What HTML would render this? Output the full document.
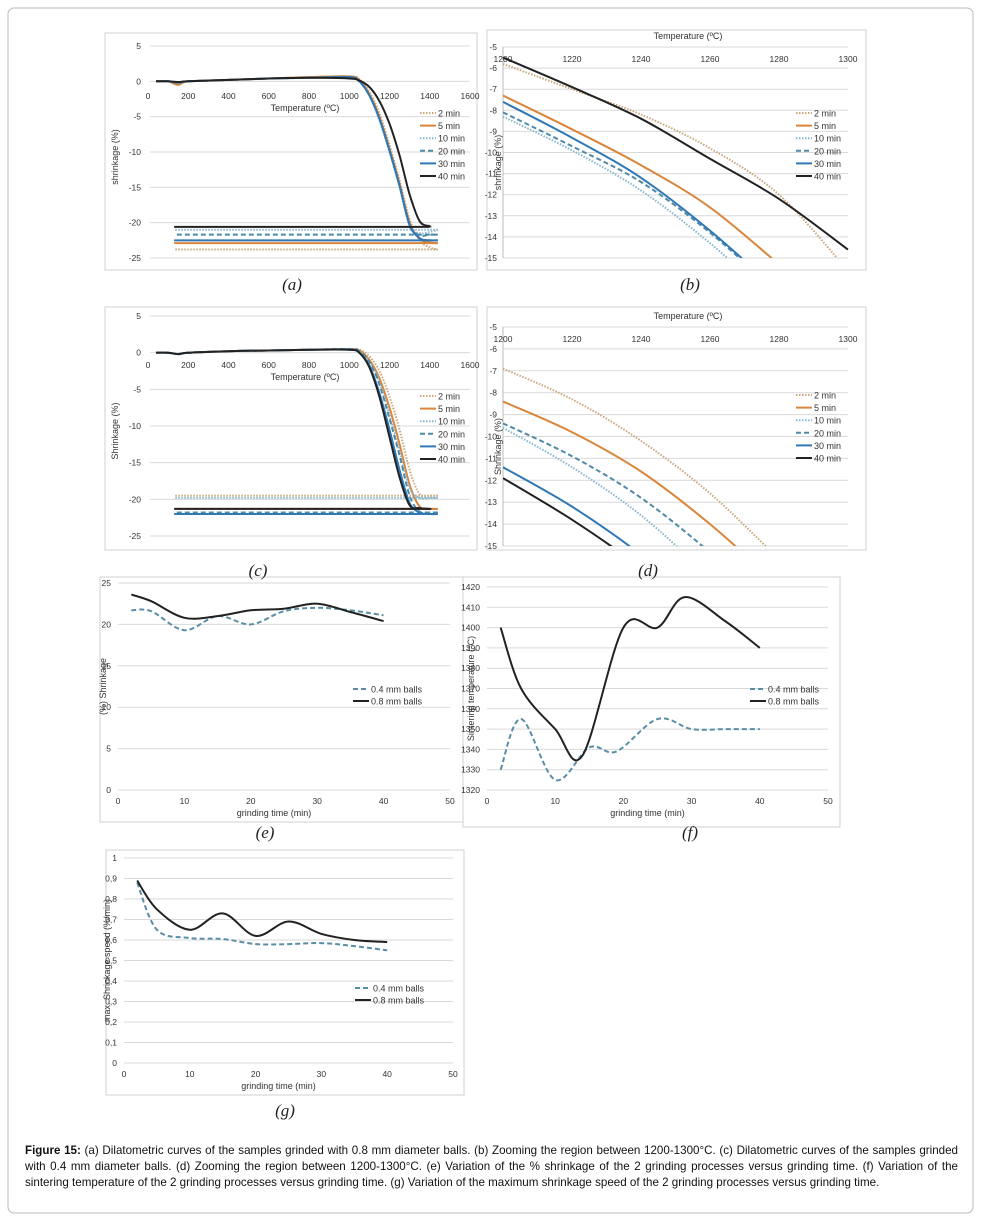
<!DOCTYPE html>
<html><head><meta charset="utf-8">
<style>
body{margin:0;background:#fff;}
svg{display:block;font-family:"Liberation Sans",sans-serif;}
.cap{position:absolute;left:25px;top:1143px;width:933px;font:11.6px/16px "Liberation Sans",sans-serif;text-align:justify;color:#111;}
</style></head>
<body>
<div style="position:relative;width:981px;height:1219px;">
<svg id="fig" width="981" height="1219" viewBox="0 0 981 1219">
<rect x="8" y="8" width="965" height="1205" rx="6" fill="#fff" stroke="#bbb"/>
</svg>
<div class="cap"><b>Figure 15:</b> (a) Dilatometric curves of the samples grinded with 0.8 mm diameter balls. (b) Zooming the region between 1200-1300°C. (c) Dilatometric curves of the samples grinded with 0.4 mm diameter balls. (d) Zooming the region between 1200-1300°C. (e) Variation of the % shrinkage of the 2 grinding processes versus grinding time. (f) Variation of the sintering temperature of the 2 grinding processes versus grinding time. (g) Variation of the maximum shrinkage speed of the 2 grinding processes versus grinding time.</div>
</div>
<script>
// ---------- data ----------
const seriesNames = ["2 min","5 min","10 min","20 min","30 min","40 min"];
const heatTemps = [40,100,150,200,400,600,800,1000,1050,1100,1150,1200,1250,1300,1350,1400];
// panel (a): 0.8 mm balls
const aHeat2  = [0,0,-0.4,0,0.2,0.4,0.6,0.7,0.3,-1.5,-4.5,-9,-14,-19.5,-22.5,-23.5];
const aHeat5  = [0,0,-0.5,0,0.2,0.4,0.6,0.7,0.2,-1.8,-5,-9.5,-14.5,-20,-22.3,-22.8];
const aHeat10 = [0,0,-0.2,0,0.2,0.4,0.5,0.6,0,-2,-5.5,-10,-15,-20.5,-21.5,-21.3];
const aHeat20 = [0,0,-0.2,0,0.2,0.4,0.5,0.6,0,-2,-5.3,-9.8,-14.8,-20.3,-21.8,-21.7];
const aHeat30 = [0,0,-0.2,0,0.2,0.4,0.5,0.6,0,-2,-5.3,-9.8,-14.8,-20.3,-22.2,-22.5];
const aHeat40 = [0,0,-0.1,0,0.2,0.4,0.5,0.4,0.1,-0.8,-2.8,-6,-10.5,-16,-19.8,-20.5];
const aCool = [-23.8,-22.9,-21.0,-21.7,-22.5,-20.6];
// panel (c): 0.4 mm balls
const cHeat2  = [0,0,-0.2,0,0.2,0.3,0.4,0.5,0.4,-0.5,-2.5,-6,-10.5,-16,-19.3,-19.5];
const cHeat5  = [0,0,-0.2,0,0.2,0.3,0.4,0.5,0.3,-1,-3.5,-7.5,-12.5,-18,-21,-21.3];
const cHeat10 = [0,0,-0.2,0,0.2,0.3,0.4,0.5,0.2,-1.3,-4,-8.5,-13.5,-18.5,-19.8,-19.8];
const cHeat20 = [0,0,-0.2,0,0.2,0.3,0.4,0.5,0.2,-1.3,-4.3,-9,-14,-19.5,-21.7,-21.8];
const cHeat30 = [0,0,-0.2,0,0.2,0.3,0.4,0.4,0,-1.8,-5.5,-10.5,-16,-20.5,-21.8,-22];
const cHeat40 = [0,0,-0.2,0,0.2,0.3,0.4,0.4,0,-2,-6,-11.5,-17,-20.8,-21.2,-21.3];
const cCool = [-19.5,-21.3,-19.8,-21.8,-22.0,-21.3];
// zoom panels (b),(d)
const zoomTemps = [1200,1220,1240,1260,1280,1300];
const b2  = [-5.8,-7.0,-8.2,-9.8,-12.0,-15.6];
const b5  = [-7.3,-8.9,-10.6,-12.6,-15.3,-18];
const b10 = [-8.3,-9.9,-11.8,-14.3,-17.2,-20];
const b20 = [-8.1,-9.7,-11.4,-13.8,-16.7,-19.6];
const b30 = [-7.6,-9.3,-11.2,-13.7,-16.6,-19.5];
const b40 = [-5.5,-6.9,-8.4,-10.3,-12.2,-14.6];
const d2  = [-6.9,-8.3,-10.2,-12.6,-15.6,-18.6];
const d5  = [-8.4,-9.8,-11.6,-14.0,-16.8,-19.6];
const d10 = [-9.6,-11.4,-13.6,-16.4,-19.2,-22];
const d20 = [-9.4,-10.9,-12.8,-15.3,-18.2,-21];
const d30 = [-11.4,-13.2,-15.4,-18.0,-20.6,-23];
const d40 = [-11.9,-13.8,-16.0,-18.6,-21.2,-24];
// (e)(f)(g)
const grindTimes = [2,5,10,15,20,25,30,35,40];
const eSmall = [21.7,21.6,19.3,21.0,20.0,21.6,22.0,21.7,21.1];
const eLarge = [23.6,22.8,20.8,21.0,21.7,21.9,22.5,21.5,20.4];
const fTimes4 = [2,5,10,15,19,25,30,35,40];
const fSmall = [1330,1355,1325,1341,1339,1355,1350,1350,1350];
const fTimes8 = [2,5,10,14,20,25,29,35,40];
const fLarge = [1400,1370,1350,1337,1400,1400,1415,1403,1390];
const gSmall = [0.88,0.65,0.61,0.605,0.58,0.58,0.585,0.57,0.55];
const gLarge = [0.89,0.75,0.65,0.73,0.62,0.69,0.63,0.60,0.59];

// ---------- helpers ----------
const NS="http://www.w3.org/2000/svg";
const svg=document.getElementById('fig');
function el(tag,attrs,parent){const e=document.createElementNS(NS,tag);for(const k in attrs)e.setAttribute(k,attrs[k]);(parent||svg).appendChild(e);return e;}
function txt(x,y,s,size,anchor,parent,rot){const t=el('text',{x:x,y:y,'font-size':size,'text-anchor':anchor||'middle',fill:'#333'},parent);if(rot)t.setAttribute('transform','rotate(-90 '+x+' '+y+')');t.textContent=s;return t;}
function smooth(pts){let d='M'+pts[0][0].toFixed(1)+','+pts[0][1].toFixed(1);for(let i=0;i<pts.length-1;i++){const p0=pts[i-1]||pts[i],p1=pts[i],p2=pts[i+1],p3=pts[i+2]||p2;const c1=[p1[0]+(p2[0]-p0[0])/6,p1[1]+(p2[1]-p0[1])/6],c2=[p2[0]-(p3[0]-p1[0])/6,p2[1]-(p3[1]-p1[1])/6];d+='C'+c1[0].toFixed(1)+','+c1[1].toFixed(1)+' '+c2[0].toFixed(1)+','+c2[1].toFixed(1)+' '+p2[0].toFixed(1)+','+p2[1].toFixed(1);}return d;}
const styles=[
 {stroke:'#c9a77c',w:2,dash:'1.5,1.5'},
 {stroke:'#d9853b',w:2,dash:''},
 {stroke:'#86b6cf',w:2,dash:'1.5,1.5'},
 {stroke:'#4f8aa6',w:2,dash:'5,3'},
 {stroke:'#2f78b5',w:2,dash:''},
 {stroke:'#222',w:2,dash:''}];
function scale(p0,p1,v0,v1){return v=>p0+(v-v0)*(p1-p0)/(v1-v0);}
function frame(x,y,w,h,name){el('rect',{x:x,y:y,width:w,height:h,fill:'#fff',stroke:'#d0d0d0','stroke-width':1,});}
function grid(g,X,Y,yv,x0,x1){yv.forEach(v=>el('line',{x1:x0,x2:x1,y1:Y(v),y2:Y(v),stroke:'#d9d9d9','stroke-width':1},g));}
function line(g,X,Y,xs,ys,st,name,clip){const p=el('path',{d:smooth(xs.map((x,i)=>[X(x),Y(ys[i])])),fill:'none',stroke:st.stroke,'stroke-width':st.w,'stroke-dasharray':st.dash},g);if(clip)p.setAttribute('clip-path','url(#'+clip+')');return p;}
function legend(g,x,y,dy,names,sts){names.forEach((n,i)=>{const lg=el('g',{},g);el('line',{x1:x,x2:x+16,y1:y+i*dy,y2:y+i*dy,stroke:sts[i].stroke,'stroke-width':sts[i].w,'stroke-dasharray':sts[i].dash},lg);txt(x+18,y+i*dy+3.5,n,9,'start',lg);});}
function clipRect(id,x,y,w,h){const cp=el('clipPath',{id:id});el('rect',{x:x,y:y,width:w,height:h},cp);}

// ---------- panel a / c (dilatometric) ----------
function dilPanel(id,box,yTop,yBot,xAxisY,heats,cool,ytitle,legY,lx){
 frame(box[0],box[1],box[2],box[3],'panel-'+id);
 const g=el('g',{});
 const X=scale(148,470,0,1600),Y=scale(yTop,yBot,5,-25);
 grid(g,X,Y,[5,0,-5,-10,-15,-20,-25],150,470);
 [5,0,-5,-10,-15,-20,-25].forEach(v=>txt(141,Y(v)+3,String(v),8.5,'end',g));
 [0,200,400,600,800,1000,1200,1400,1600].forEach(v=>txt(X(v),xAxisY,String(v),8.5,'middle',g));
 txt(305,xAxisY+12,'Temperature (ºC)',9,'middle',g);
 txt(118,(yTop+yBot)/2+5,ytitle,9,'middle',g,true);
 heats.forEach((h,i)=>{
   const endT=i==5?1400:1440;
   line(g,X,Y,heatTemps.concat([endT]),h.concat([cool[i]]),styles[i],'series-'+id+'-'+seriesNames[i].replace(' ','-')+'-heating');
   const c=el('line',{x1:X(endT),x2:X(130),y1:Y(cool[i]),y2:Y(cool[i]),stroke:styles[i].stroke,'stroke-width':styles[i].w,'stroke-dasharray':styles[i].dash},g);
   
 });
 legend(g,lx,legY,12.6,seriesNames,styles);
}
dilPanel('a',[105,33,372,237],46,258,99,[aHeat2,aHeat5,aHeat10,aHeat20,aHeat30,aHeat40],aCool,'shrinkage (%)',113,420);
dilPanel('c',[105,307,372,243],316,536,368,[cHeat2,cHeat5,cHeat10,cHeat20,cHeat30,cHeat40],cCool,'Shrinkage (%)',396,420);

// ---------- zoom panels b / d ----------
function zoomPanel(id,box,yTop,yBot,labY,titleY,series,ytitle,legY){
 frame(box[0],box[1],box[2],box[3],'panel-'+id);
 const g=el('g',{});
 const X=scale(503,848,1200,1300),Y=scale(yTop,yBot,-5,-15);
 clipRect('clip-'+id,503,yTop-2,347,yBot-yTop+2);
 const yv=[-5,-6,-7,-8,-9,-10,-11,-12,-13,-14,-15];
 grid(g,X,Y,yv,503,848);
 el('line',{x1:503,x2:503,y1:yTop,y2:yBot,stroke:'#bbb'},g);
 yv.forEach(v=>txt(497,Y(v)+3,String(v),8.5,'end',g));
 [1200,1220,1240,1260,1280,1300].forEach(v=>txt(X(v),labY,String(v),8.5,'middle',g));
 txt(688,titleY,'Temperature (ºC)',9,'middle',g);
 txt(501,(yTop+yBot)/2+10,ytitle,9,'middle',g,true);
 series.forEach((s,i)=>line(g,X,Y,zoomTemps,s,styles[i],'series-'+id+'-'+seriesNames[i].replace(' ','-'),'clip-'+id));
 legend(g,796,legY,12.6,seriesNames,styles);
}
zoomPanel('b',[487,30,379,240],47,258,62,39,[b2,b5,b10,b20,b30,b40],'shrinkage (%)',113);
zoomPanel('d',[487,307,379,243],327,546,342,319,[d2,d5,d10,d20,d30,d40],'Shrinkage (%)',395);

// ---------- e / f / g ----------
const twoStyles=[{stroke:'#5a8ea5',w:2,dash:'5,3'},{stroke:'#222',w:2,dash:''}];
const twoNames=['0.4 mm balls','0.8 mm balls'];
function timePanel(id,box,px,py,yv,fmt,seriesX,seriesY,ytitle,ytx,legX,legY){
 frame(box[0],box[1],box[2],box[3],'panel-'+id);
 const g=el('g',{});
 const X=scale(px[0],px[1],0,50),Y=scale(py[0],py[1],yv[yv.length-1],yv[0]);
 grid(g,X,Y,yv,px[0],px[1]);
 yv.forEach(v=>txt(px[0]-7,Y(v)+3,fmt(v),8.5,'end',g));
 [0,10,20,30,40,50].forEach(v=>txt(X(v),py[0]+14,String(v),8.5,'middle',g));
 txt((px[0]+px[1])/2-10,py[0]+26,'grinding time (min)',9,'middle',g);
 txt(ytx,(py[0]+py[1])/2,ytitle,9,'middle',g,true);
 seriesY.forEach((s,i)=>line(g,X,Y,seriesX[i],s,twoStyles[i],'series-'+id+'-'+(i?'0-8mm':'0-4mm')));
 legend(g,legX,legY,12,twoNames,twoStyles);
}
timePanel('e',[100,577,371,245],[118,450],[790,583],[25,20,15,10,5,0],v=>String(v),[grindTimes,grindTimes],[eSmall,eLarge],'(%) Shrinkage',106,353,689);
timePanel('f',[463,577,377,250],[487,828],[790,587],[1420,1410,1400,1390,1380,1370,1360,1350,1340,1330,1320],v=>String(v),[fTimes4,fTimes8],[fSmall,fLarge],'Sintering temperature (°C)',474,750,689);
timePanel('g',[106,850,358,245],[124,453],[1063,858],[1,0.9,0.8,0.7,0.6,0.5,0.4,0.3,0.2,0.1,0],v=>String(Math.round(v*10)/10).replace('.',','),[grindTimes,grindTimes],[gSmall,gLarge],'max. Shrinkage speed (%/min)',110,355,988);

// ---------- panel letters ----------
[['(a)',292,290],['(b)',690,290],['(c)',258,576],['(d)',648,576],['(e)',265,838],['(f)',690,838],['(g)',285,1116]].forEach(a=>{
 const t=el('text',{x:a[1],y:a[2],'font-size':17,'font-style':'italic','font-family':'Liberation Serif, serif','text-anchor':'middle',fill:'#222'});
 
 
 t.textContent=a[0];
});
</script>
</body></html>
